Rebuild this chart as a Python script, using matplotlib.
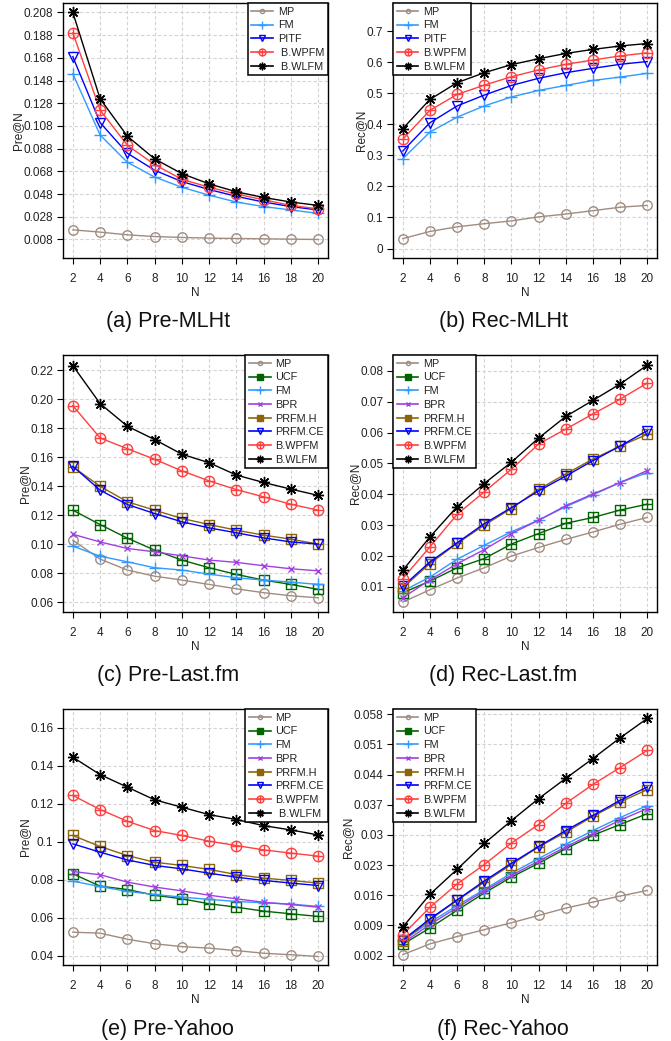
import numpy as np
import matplotlib
matplotlib.use('Agg')
from matplotlib import pyplot as plt
from matplotlib.path import Path
from matplotlib.lines import Line2D

plt.rcParams['font.family'] = ['Liberation Sans', 'DejaVu Sans']

N = [2, 4, 6, 8, 10, 12, 14, 16, 18, 20]

# (a) Pre-MLHt
a_mp = [0.0165, 0.0145, 0.0121, 0.0106, 0.0098, 0.0092, 0.0089, 0.0086, 0.0083, 0.0080]
a_fm = [0.154, 0.100, 0.076, 0.063, 0.054, 0.047, 0.041, 0.037, 0.034, 0.031]
a_pitf = [0.169, 0.111, 0.084, 0.069, 0.059, 0.052, 0.046, 0.041, 0.037, 0.034]
a_wpfm = [0.190, 0.122, 0.091, 0.074, 0.061, 0.054, 0.048, 0.043, 0.038, 0.035]
a_wlfm = [0.208, 0.132, 0.099, 0.079, 0.066, 0.057, 0.050, 0.045, 0.041, 0.038]
a_ticks = [0.008, 0.028, 0.048, 0.068, 0.088, 0.108, 0.128, 0.148, 0.168, 0.188, 0.208]
a_labels = ['0.008', '0.028', '0.048', '0.068', '0.088', '0.108', '0.128', '0.148', '0.168', '0.188', '0.208']

# (b) Rec-MLHt
b_mp = [0.032, 0.055, 0.070, 0.080, 0.089, 0.102, 0.111, 0.122, 0.133, 0.139]
b_fm = [0.289, 0.375, 0.423, 0.459, 0.488, 0.509, 0.525, 0.541, 0.552, 0.564]
b_pitf = [0.314, 0.405, 0.459, 0.494, 0.525, 0.548, 0.566, 0.580, 0.593, 0.602]
b_wpfm = [0.352, 0.445, 0.496, 0.526, 0.553, 0.575, 0.593, 0.607, 0.620, 0.630]
b_wlfm = [0.386, 0.480, 0.534, 0.566, 0.592, 0.611, 0.628, 0.641, 0.652, 0.660]
b_ticks = [0, 0.1, 0.2, 0.3, 0.4, 0.5, 0.6, 0.7]
b_labels = ['0', '0.1', '0.2', '0.3', '0.4', '0.5', '0.6', '0.7']

# (c) Pre-Last.fm
c_mp = [0.1029, 0.0899, 0.0823, 0.0781, 0.0754, 0.0724, 0.0694, 0.0667, 0.0646, 0.0632]
c_ucf = [0.1236, 0.1137, 0.1043, 0.0961, 0.0892, 0.0839, 0.0793, 0.0754, 0.0724, 0.0690]
c_fm = [0.0988, 0.0919, 0.0880, 0.0839, 0.0823, 0.0795, 0.0770, 0.0754, 0.0740, 0.0724]
c_bpr = [0.1070, 0.1017, 0.0972, 0.0949, 0.0921, 0.0892, 0.0876, 0.0853, 0.0832, 0.0818]
c_prfmh = [0.1535, 0.1401, 0.1294, 0.1236, 0.1179, 0.1137, 0.1098, 0.1064, 0.1036, 0.1002]
c_prfmce = [0.1539, 0.1374, 0.1275, 0.1213, 0.1156, 0.1114, 0.1080, 0.1045, 0.1017, 0.1002]
c_wpfm = [0.1957, 0.1734, 0.1660, 0.1587, 0.1507, 0.1438, 0.1378, 0.1328, 0.1277, 0.1236]
c_wlfm = [0.2233, 0.1971, 0.1815, 0.1723, 0.1622, 0.1563, 0.1478, 0.1427, 0.1381, 0.1338]
c_ticks = [0.06, 0.08, 0.10, 0.12, 0.14, 0.16, 0.18, 0.20, 0.22]
c_labels = ['0.06', '0.08', '0.10', '0.12', '0.14', '0.16', '0.18', '0.20', '0.22']

# (d) Rec-Last.fm
d_mp = [0.0051, 0.0091, 0.0129, 0.0162, 0.0200, 0.0228, 0.0254, 0.0278, 0.0303, 0.0325]
d_ucf = [0.0081, 0.0119, 0.0162, 0.0192, 0.0239, 0.0273, 0.0306, 0.0325, 0.0349, 0.0368]
d_fm = [0.0087, 0.0132, 0.0190, 0.0235, 0.0279, 0.0316, 0.0360, 0.0398, 0.0438, 0.0470]
d_bpr = [0.0065, 0.0123, 0.0175, 0.0221, 0.0273, 0.0316, 0.0363, 0.0401, 0.0438, 0.0477]
d_prfmh = [0.0097, 0.0176, 0.0241, 0.0300, 0.0354, 0.0416, 0.0466, 0.0514, 0.0556, 0.0594]
d_prfmce = [0.0102, 0.0181, 0.0243, 0.0305, 0.0357, 0.0411, 0.0459, 0.0509, 0.0556, 0.0606]
d_wpfm = [0.0127, 0.0230, 0.0335, 0.0408, 0.0481, 0.0563, 0.0611, 0.0660, 0.0708, 0.0760]
d_wlfm = [0.0154, 0.0262, 0.0360, 0.0435, 0.0504, 0.0582, 0.0652, 0.0704, 0.0757, 0.0818]
d_ticks = [0.01, 0.02, 0.03, 0.04, 0.05, 0.06, 0.07, 0.08]
d_labels = ['0.01', '0.02', '0.03', '0.04', '0.05', '0.06', '0.07', '0.08']

# (e) Pre-Yahoo
e_mp = [0.0523, 0.0518, 0.0486, 0.0462, 0.0447, 0.0439, 0.0426, 0.0412, 0.0404, 0.0395]
e_ucf = [0.0831, 0.0766, 0.0748, 0.0718, 0.0699, 0.0673, 0.0655, 0.0634, 0.0620, 0.0606]
e_fm = [0.0792, 0.0764, 0.0738, 0.0722, 0.0708, 0.0696, 0.0685, 0.0678, 0.0671, 0.0659]
e_bpr = [0.0843, 0.0826, 0.0787, 0.0761, 0.0741, 0.0718, 0.0699, 0.0681, 0.0669, 0.0655]
e_prfmh = [0.1033, 0.0975, 0.0927, 0.0892, 0.0875, 0.0854, 0.0827, 0.0808, 0.0796, 0.0782]
e_prfmce = [0.0989, 0.0945, 0.0904, 0.0875, 0.0857, 0.0834, 0.0813, 0.0796, 0.0782, 0.0769]
e_wpfm = [0.1244, 0.1170, 0.1108, 0.1059, 0.1033, 0.1003, 0.0980, 0.0957, 0.0940, 0.0924]
e_wlfm = [0.1446, 0.1354, 0.1288, 0.1221, 0.1182, 0.1143, 0.1117, 0.1085, 0.1062, 0.1036]
e_ticks = [0.04, 0.06, 0.08, 0.10, 0.12, 0.14, 0.16]
e_labels = ['0.04', '0.06', '0.08', '0.1', '0.12', '0.14', '0.16']

# (f) Rec-Yahoo
f_mp = [0.0022, 0.0047, 0.0064, 0.0080, 0.0096, 0.0113, 0.0130, 0.0144, 0.0158, 0.0171]
f_ucf = [0.0046, 0.0084, 0.0125, 0.0165, 0.0202, 0.0234, 0.0268, 0.0299, 0.0324, 0.0349]
f_fm = [0.0055, 0.0097, 0.0136, 0.0173, 0.0211, 0.0245, 0.0278, 0.0310, 0.0340, 0.0368]
f_bpr = [0.0049, 0.0092, 0.0131, 0.0170, 0.0206, 0.0239, 0.0272, 0.0303, 0.0334, 0.0361]
f_prfmh = [0.0053, 0.0103, 0.0148, 0.0190, 0.0231, 0.0272, 0.0306, 0.0343, 0.0376, 0.0405]
f_prfmce = [0.0056, 0.0105, 0.0149, 0.0193, 0.0234, 0.0273, 0.0310, 0.0345, 0.0380, 0.0411]
f_wpfm = [0.0068, 0.0132, 0.0186, 0.0231, 0.0281, 0.0324, 0.0373, 0.0417, 0.0456, 0.0496]
f_wlfm = [0.0086, 0.0162, 0.0220, 0.0280, 0.0333, 0.0384, 0.0431, 0.0477, 0.0525, 0.0570]
f_ticks = [0.002, 0.009, 0.016, 0.023, 0.030, 0.037, 0.044, 0.051, 0.058]
f_labels = ['0.002', '0.009', '0.016', '0.023', '0.03', '0.037', '0.044', '0.051', '0.058']

# markers like R pch 10 / 12 / 8
cross = Path([[-1, 0], [1, 0], [0, -1], [0, 1]],
             [Path.MOVETO, Path.LINETO, Path.MOVETO, Path.LINETO])
circle_plus = Path.make_compound_path(Path.unit_circle(), cross)
sq = Path([[-1, -1], [1, -1], [1, 1], [-1, 1], [-1, -1]],
          [Path.MOVETO, Path.LINETO, Path.LINETO, Path.LINETO, Path.CLOSEPOLY])
square_plus = Path.make_compound_path(sq, cross)

# name -> color, plot marker, plot size, legend marker, legend size, legend filled
styles = {
    'MP': ('#a08c80', 'o', 6.8, 'o', 3, False),
    'UCF': ('#006400', square_plus, 6.5, 's', 4, True),
    'FM': ('#3399ff', '+', 8, '+', 5.5, False),
    'BPR': ('#a040e0', 'x', 5, 'x', 3.5, False),
    'PITF': ('#0000ff', 'v', 7, 'v', 5, False),
    'PRFM.H': ('#8b6508', square_plus, 6.5, 's', 4, True),
    'PRFM.CE': ('#0000ff', 'v', 7, 'v', 5, False),
    'B.WPFM': ('#ff4040', circle_plus, 7.5, circle_plus, 5, False),
    'B.WLFM': ('#000000', (8, 2, 0), 8, (8, 2, 0), 5.5, False),
}

panels = [
    # rect in pixels (left, top, right, bottom), series, ticks, labels, ylim, ylabel, caption, legend loc
    ((63, 3, 328, 258), [('MP', a_mp, 'MP'), ('FM', a_fm, 'FM'), ('PITF', a_pitf, 'PITF'),
                         ('B.WPFM', a_wpfm, ' B.WPFM'), ('B.WLFM', a_wlfm, ' B.WLFM')],
     a_ticks, a_labels, (-0.0083, 0.2163), 'Pre@N', '(a) Pre-MLHt', 'upper right'),
    ((393, 3, 657, 258), [('MP', b_mp, 'MP'), ('FM', b_fm, 'FM'), ('PITF', b_pitf, 'PITF'),
                          ('B.WPFM', b_wpfm, 'B.WPFM'), ('B.WLFM', b_wlfm, 'B.WLFM')],
     b_ticks, b_labels, (-0.0304, 0.7904), 'Rec@N', '(b) Rec-MLHt', 'upper left'),
    ((63, 355, 328, 612), [('MP', c_mp, 'MP'), ('UCF', c_ucf, 'UCF'), ('FM', c_fm, 'FM'),
                           ('BPR', c_bpr, 'BPR'), ('PRFM.H', c_prfmh, 'PRFM.H'),
                           ('PRFM.CE', c_prfmce, 'PRFM.CE'), ('B.WPFM', c_wpfm, 'B.WPFM'),
                           ('B.WLFM', c_wlfm, 'B.WLFM')],
     c_ticks, c_labels, (0.0534, 0.2306), 'Pre@N', '(c) Pre-Last.fm', 'upper right'),
    ((393, 355, 657, 612), [('MP', d_mp, 'MP'), ('UCF', d_ucf, 'UCF'), ('FM', d_fm, 'FM'),
                            ('BPR', d_bpr, 'BPR'), ('PRFM.H', d_prfmh, 'PRFM.H'),
                            ('PRFM.CE', d_prfmce, 'PRFM.CE'), ('B.WPFM', d_wpfm, 'B.WPFM'),
                            ('B.WLFM', d_wlfm, 'B.WLFM')],
     d_ticks, d_labels, (0.0019, 0.0851), 'Rec@N', '(d) Rec-Last.fm', 'upper left'),
    ((63, 709, 328, 965), [('MP', e_mp, 'MP'), ('UCF', e_ucf, 'UCF'), ('FM', e_fm, 'FM'),
                           ('BPR', e_bpr, 'BPR'), ('PRFM.H', e_prfmh, 'PRFM.H'),
                           ('PRFM.CE', e_prfmce, 'PRFM.CE'), ('B.WPFM', e_wpfm, 'B.WPFM'),
                           ('B.WLFM', e_wlfm, ' B.WLFM')],
     e_ticks, e_labels, (0.035, 0.170), 'Pre@N', '(e) Pre-Yahoo', 'upper right'),
    ((393, 709, 657, 965), [('MP', f_mp, 'MP'), ('UCF', f_ucf, 'UCF'), ('FM', f_fm, 'FM'),
                            ('BPR', f_bpr, 'BPR'), ('PRFM.H', f_prfmh, 'PRFM.H'),
                            ('PRFM.CE', f_prfmce, 'PRFM.CE'), ('B.WPFM', f_wpfm, 'B.WPFM'),
                            ('B.WLFM', f_wlfm, 'B.WLFM')],
     f_ticks, f_labels, (-0.0002, 0.0592), 'Rec@N', '(f) Rec-Yahoo', 'upper left'),
]

W, H = 671, 1041
fig = plt.figure(figsize=(W / 100, H / 100), dpi=100)
txt = '#222222'

for rect, series, ticks, labels, ylim, ylabel, caption, loc in panels:
    l, t, r, b = rect
    ax = fig.add_axes([l / W, 1 - b / H, (r - l) / W, (b - t) / H])
    handles = []
    for key, vals, lab in series:
        col, mk, ms, lmk, lms, lfill = styles[key]
        ax.plot(N, vals, color=col, lw=1.0, marker=mk, ms=ms,
                markerfacecolor='none', markeredgecolor=col, markeredgewidth=1.0)
        handles.append(Line2D([], [], color=col, lw=1.2, marker=lmk, ms=lms,
                              markerfacecolor=col if lfill else 'none',
                              markeredgecolor=col, markeredgewidth=1.0, label=lab))
    ax.set_xlim(1.28, 20.72)
    ax.set_ylim(*ylim)
    ax.set_xticks(N)
    ax.set_yticks(ticks)
    ax.set_yticklabels(labels)
    ax.grid(True, color='#d3d3d3', linestyle=(0, (3, 2)), lw=0.8)
    ax.set_axisbelow(True)
    for s in ax.spines.values():
        s.set_linewidth(1.0)
        s.set_color('black')
    ax.tick_params(direction='out', length=4, width=0.8, labelsize=8.5,
                   labelcolor=txt, pad=3)
    ax.tick_params(axis='x', pad=7)
    ax.set_xlabel('N', fontsize=8.5, color=txt, labelpad=1)
    ax.set_ylabel(ylabel, fontsize=8.5, color=txt, labelpad=-0.5)
    leg = ax.legend(handles=handles, loc=loc, borderaxespad=0, fontsize=7.8,
                    frameon=True, fancybox=False, framealpha=1, edgecolor='black',
                    handlelength=2.0, handletextpad=0.45, labelspacing=0.34,
                    borderpad=0.35)
    leg.get_frame().set_linewidth(1.1)
    for tx in leg.get_texts():
        tx.set_color(txt)
    cx = 167.75 if l < 335 else 503.25
    cy = b + 64
    fig.text(cx / W, 1 - cy / H, caption, ha='center', va='center',
             fontsize=15.5, color='#111111')

fig.savefig('out.png', dpi=100)
